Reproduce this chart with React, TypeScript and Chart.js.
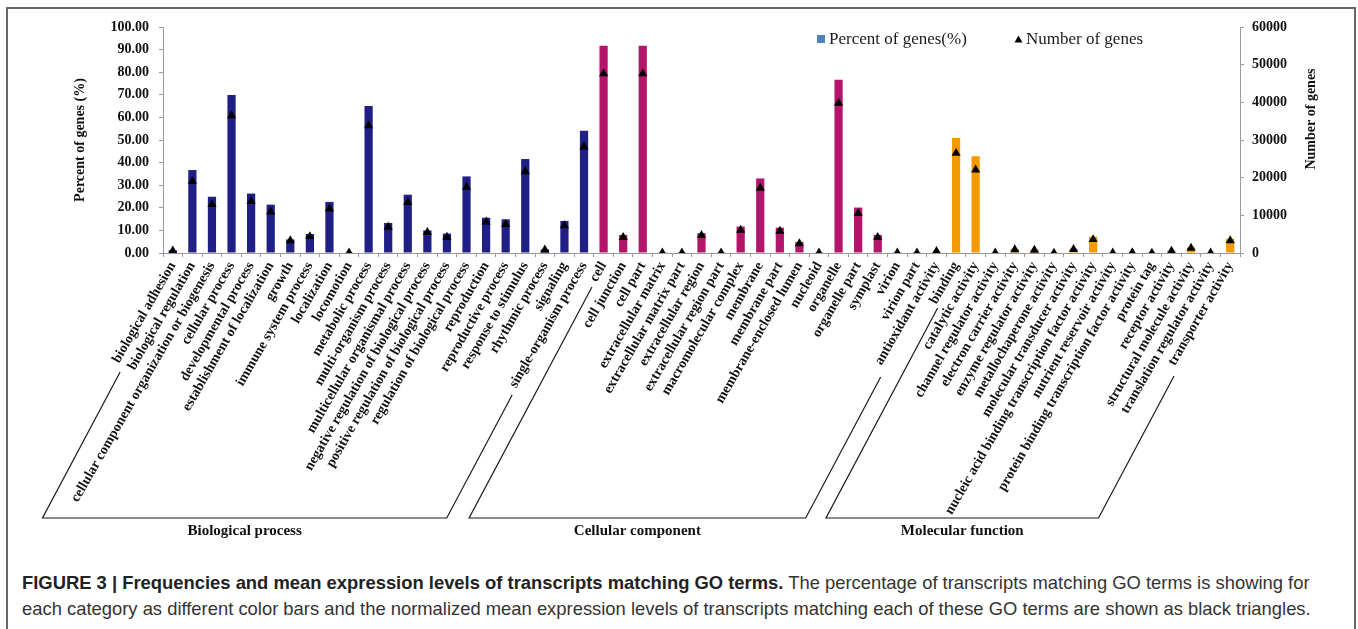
import React, { useEffect, useRef } from 'react';
import { Chart, registerables } from 'chart.js';

Chart.register(...registerables);

const SERIF = "'Liberation Serif', 'Times New Roman', serif";
const SANS = "'Liberation Sans', Arial, Helvetica, sans-serif";

const categories = [
  'biological adhesion',
  'biological regulation',
  'cellular component organization or biogenesis',
  'cellular process',
  'developmental process',
  'establishment of localization',
  'growth',
  'immune system process',
  'localization',
  'locomotion',
  'metabolic process',
  'multi-organism process',
  'multicellular organismal process',
  'negative regulation of biological process',
  'positive regulation of biological process',
  'regulation of biological process',
  'reproduction',
  'reproductive process',
  'response to stimulus',
  'rhythmic process',
  'signaling',
  'single-organism process',
  'cell',
  'cell junction',
  'cell part',
  'extracellular matrix',
  'extracellular matrix part',
  'extracellular region',
  'extracellular region part',
  'macromolecular complex',
  'membrane',
  'membrane part',
  'membrane-enclosed lumen',
  'nucleoid',
  'organelle',
  'organelle part',
  'symplast',
  'virion',
  'virion part',
  'antioxidant activity',
  'binding',
  'catalytic activity',
  'channel regulator activity',
  'electron carrier activity',
  'enzyme regulator activity',
  'metallochaperone activity',
  'molecular transducer activity',
  'nucleic acid binding transcription factor activity',
  'nutrient reservoir activity',
  'protein binding transcription factor activity',
  'protein tag',
  'receptor activity',
  'structural molecule activity',
  'translation regulator activity',
  'transporter activity',
];

const groupNames = ['Biological process', 'Cellular component', 'Molecular function'];
const groupSizes = [22, 17, 16];
const groupColors = ['#1f1f86', '#b3156b', '#f39a00'];

const percentOfGenes = [
  1.2, 36.7, 24.9, 69.9, 26.3, 21.4, 6.0, 8.4, 22.6, 0.1, 65.0, 13.3, 25.8, 10.0, 8.6,
  33.9, 15.6, 14.9, 41.6, 1.6, 14.2, 54.1,
  91.7, 8.0, 91.7, 0.1, 0.05, 8.8, 0.1, 11.7, 33.0, 11.2, 4.9, 0.05, 76.7, 20.1, 8.0, 0.05, 0.05,
  0.8, 50.9, 42.8, 0.05, 1.8, 1.5, 0.02, 1.9, 7.2, 0.03, 0.3, 0.02, 1.0, 2.5, 0.05, 6.3,
];

const numberOfGenes = [
  600, 19000, 12900, 36500, 13700, 10900, 3300, 4400, 11700, 60, 33800, 6900, 13450, 5500, 4250,
  17500, 8300, 7600, 21600, 850, 7300, 28200,
  47600, 4160, 47600, 60, 30, 4700, 50, 6100, 17260, 5840, 2500, 30, 39800, 10500, 4160, 20, 30,
  450, 26500, 22100, 30, 900, 800, 10, 1000, 3600, 20, 150, 10, 550, 1300, 30, 3300,
];

const leftAxisMax = 100;
const leftAxisStep = 10;
const rightAxisMax = 60000;
const rightAxisStep = 10000;

const legendLabels = ['Percent of genes(%)', 'Number of genes'];
const leftTitle = 'Percent of genes (%)';
const rightTitle = 'Number of genes';

// bracket slants: [category index, offset from tick at label start, top y]
const brackets = [
  { left: [0, 6.9, 372], right: [21, -0.1, 395] },
  { left: [22, 2.7, 287], right: [39, 6.4, 377] },
  { left: [40, 7.1, 308], right: [54, 5.5, 376] },
];

const barColors: string[] = [];
groupSizes.forEach((n, g) => {
  for (let i = 0; i < n; i++) barColors.push(groupColors[g]);
});

const decorPlugin = {
  id: 'decor',
  afterDraw(chart: any) {
    const { ctx, chartArea } = chart;
    const xs = chart.scales.x;
    const k = 1 / Math.tan((62 * Math.PI) / 180);
    const y0 = chartArea.bottom + 7;
    const bottomY = 518;
    ctx.save();
    ctx.strokeStyle = '#1a1a1a';
    ctx.lineWidth = 1.2;
    brackets.forEach((b, gi) => {
      const lx = (y: number) => xs.getPixelForValue(b.left[0]) + b.left[1] - (y - y0) * k;
      const rx = (y: number) => xs.getPixelForValue(b.right[0]) + b.right[1] - (y - y0) * k;
      ctx.beginPath();
      ctx.moveTo(lx(b.left[2]), b.left[2]);
      ctx.lineTo(lx(bottomY), bottomY);
      ctx.lineTo(rx(bottomY), bottomY);
      ctx.lineTo(rx(b.right[2]), b.right[2]);
      ctx.stroke();
      ctx.font = `bold 15px ${SERIF}`;
      ctx.fillStyle = '#111';
      ctx.textAlign = 'center';
      ctx.textBaseline = 'middle';
      ctx.fillText(groupNames[gi], (lx(bottomY) + rx(bottomY)) / 2, 531);
    });

    // legend
    ctx.fillStyle = '#4f81bd';
    ctx.fillRect(817, 35, 8, 8);
    ctx.fillStyle = '#1a1a1a';
    ctx.font = `17px ${SERIF}`;
    ctx.textAlign = 'left';
    ctx.textBaseline = 'middle';
    ctx.fillText(legendLabels[0], 829, 39.5);
    ctx.fillStyle = '#000';
    ctx.beginPath();
    ctx.moveTo(1018.5, 35.5);
    ctx.lineTo(1014.5, 42.5);
    ctx.lineTo(1022.5, 42.5);
    ctx.closePath();
    ctx.fill();
    ctx.fillStyle = '#1a1a1a';
    ctx.fillText(legendLabels[1], 1026, 39.5);

    // right axis title (reads bottom to top)
    ctx.save();
    ctx.translate(1311.5, 119);
    ctx.rotate(-Math.PI / 2);
    ctx.font = `bold 14px ${SERIF}`;
    ctx.fillStyle = '#111';
    ctx.textAlign = 'center';
    ctx.textBaseline = 'middle';
    ctx.fillText(rightTitle, 0, 0);
    ctx.restore();
    ctx.restore();
  },
};

export default function App() {
  const canvasRef = useRef<HTMLCanvasElement | null>(null);

  useEffect(() => {
    if (!canvasRef.current) return;
    const chart = new Chart(canvasRef.current, {
      type: 'bar',
      data: {
        labels: categories,
        datasets: [
          {
            type: 'line',
            label: legendLabels[1],
            data: numberOfGenes,
            yAxisID: 'y1',
            showLine: false,
            pointStyle: 'triangle',
            pointRadius: 5.3,
            pointBackgroundColor: '#000',
            pointBorderColor: '#000',
            pointBorderWidth: 0,
            order: 0,
          } as any,
          {
            type: 'bar',
            label: legendLabels[0],
            data: percentOfGenes,
            yAxisID: 'y',
            backgroundColor: barColors,
            borderWidth: 0,
            categoryPercentage: 1,
            barPercentage: 0.42,
            order: 1,
          },
        ],
      },
      plugins: [decorPlugin],
      options: {
        animation: false,
        responsive: false,
        maintainAspectRatio: false,
        layout: { padding: { top: 27, left: 0, right: 0, bottom: 0 } },
        plugins: {
          legend: { display: false },
          tooltip: { enabled: false },
          title: { display: false },
        },
        scales: {
          x: {
            offset: true,
            afterFit: (scale: any) => {
              scale.height = 297;
            },
            grid: {
              display: true,
              drawOnChartArea: false,
              drawTicks: true,
              tickLength: 4,
              color: '#9a9a9a',
              offset: true,
            },
            border: { display: true, color: '#9a9a9a', width: 1 },
            ticks: {
              autoSkip: false,
              maxRotation: 60,
              minRotation: 60,
              padding: 2,
              color: '#111',
              font: { family: SERIF, size: 14, weight: 'bold' },
            },
          },
          y: {
            position: 'left',
            min: 0,
            max: leftAxisMax,
            afterFit: (scale: any) => {
              scale.width = 163;
            },
            grid: {
              display: true,
              drawOnChartArea: false,
              drawTicks: true,
              tickLength: 4,
              color: '#9a9a9a',
            },
            border: { display: true, color: '#9a9a9a', width: 1 },
            ticks: {
              stepSize: leftAxisStep,
              padding: 10,
              color: '#111',
              font: { family: SERIF, size: 14, weight: 'bold' },
              callback: (v: any) => Number(v).toFixed(2),
            },
            title: {
              display: true,
              text: leftTitle,
              color: '#111',
              font: { family: SERIF, size: 14, weight: 'bold' },
              padding: { top: 72, bottom: 0 },
            },
          },
          y1: {
            position: 'right',
            min: 0,
            max: rightAxisMax,
            afterFit: (scale: any) => {
              scale.width = 118;
            },
            grid: {
              display: true,
              drawOnChartArea: false,
              drawTicks: true,
              tickLength: 4,
              color: '#9a9a9a',
            },
            border: { display: true, color: '#9a9a9a', width: 1 },
            ticks: {
              stepSize: rightAxisStep,
              padding: 8,
              color: '#111',
              font: { family: SERIF, size: 14, weight: 'bold' },
              callback: (v: any) => String(Math.round(Number(v))),
            },
          },
        },
      } as any,
    });
    return () => chart.destroy();
  }, []);

  return (
    <div
      style={{
        position: 'fixed',
        left: 0,
        top: 0,
        width: 1358,
        height: 629,
        background: '#fff',
        overflow: 'hidden',
      }}
    >
      <div
        style={{
          position: 'absolute',
          left: 6,
          top: 7,
          width: 1346,
          height: 700,
          border: '2px solid #666',
        }}
      />
      <canvas
        ref={canvasRef}
        width={1358}
        height={550}
        style={{ position: 'absolute', left: 0, top: 0, width: 1358, height: 550 }}
      />
      <div
        style={{
          position: 'absolute',
          left: 22,
          top: 570,
          width: 1330,
          fontFamily: SANS,
          fontSize: 18.4,
          lineHeight: '26px',
          color: '#333',
          whiteSpace: 'nowrap',
        }}
      >
        <span style={{ fontWeight: 'bold', color: '#222' }}>
          FIGURE 3 | Frequencies and mean expression levels of transcripts matching GO terms.
        </span>{' '}
        The percentage of transcripts matching GO terms is showing for
        <br />
        each category as different color bars and the normalized mean expression levels of transcripts
        matching each of these GO terms are shown as black triangles.
      </div>
    </div>
  );
}
